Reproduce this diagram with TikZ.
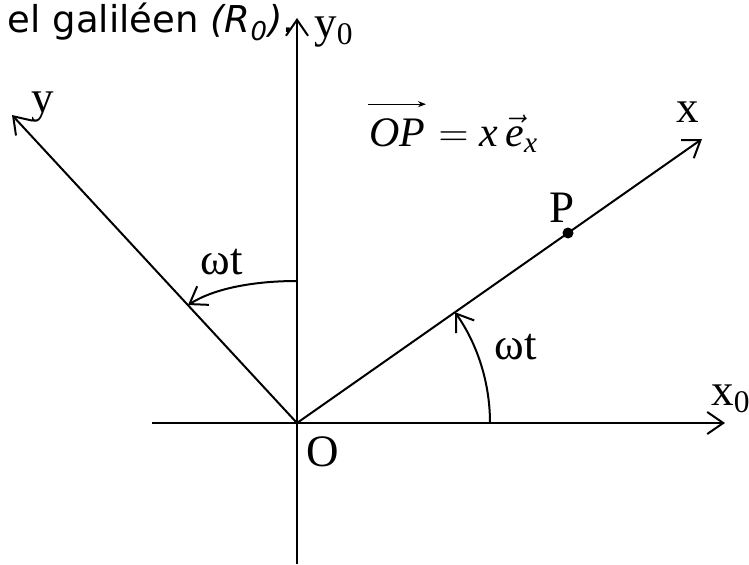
\documentclass[tikz,border=0pt]{standalone}
\usepackage{amsmath}
\usepackage{fontspec}
\setmainfont{Liberation Serif}
\newfontfamily\verd{DejaVu Sans}
\usetikzlibrary{arrows.meta}
\begin{document}
\begin{tikzpicture}[x=0.5pt,y=0.5pt, line width=1pt,
  >={Straight Barb[length=8pt,width=11pt]},
  lbl/.style={inner sep=0pt, font=\fontsize{22.5}{27}\selectfont},
  frm/.style={inner sep=0pt, anchor=base west, font=\fontsize{21}{25}\selectfont},
  dot/.style={circle, fill=black, inner sep=0pt, minimum size=5.5pt}]
\useasboundingbox (0,0) rectangle (749,564);
% coordinates
\coordinate (O) at (297,141);
\coordinate (x0s) at (152,141);
\coordinate (x0e) at (725,141);
\coordinate (y0s) at (297,0);
\coordinate (y0e) at (297,546);
\coordinate (xe) at (702,425);
\coordinate (ye) at (12,449);
\coordinate (a1) at (490,141);
\coordinate (b1) at (297,283);
\coordinate (b2) at (188,259);
% axes
\draw[->] (x0s) -- (x0e);
\draw[->] (y0s) -- (y0e);
\draw[->] (O) -- (xe);
\draw[->] (O) -- (ye);
% angles
\draw[->] (a1) arc[start angle=0, end angle=35.04, radius=193];
\draw[->] (b1) .. controls (255,283) and (215,276) .. (b2);
% point P
\node[dot] (Pd) at (568,331) {};
% labels
\node[lbl] (ly0) at (334,532) {y\textsubscript{0}};
\node[lbl] (lx0) at (731,165) {x\textsubscript{0}};
\node[lbl] (lx) at (688,452) {x};
\node[lbl] (ly) at (43,457) {y};
\node[lbl] (lO) at (323,112) {O};
\node[lbl] (lP) at (562,356) {P};
\node[lbl] (w1) at (222,302) {ωt};
\node[lbl] (w2) at (516,217) {ωt};
% formula
\node[frm] (fOP) at (368,418) {\textit{OP}};
\node[frm] (frest) at (fOP.base east) {$\;{=}\;\textit{x}\,\vec{\textit{e}}_{\textit{x}}$};
\draw[line width=0.6pt, -{Stealth[length=4pt,width=3pt]}]
  ([yshift=6.5pt]fOP.north west) -- ([yshift=6.5pt]fOP.north east);
\node[anchor=base west, inner sep=0pt, font=\verd\fontsize{18.5}{22}\selectfont] (top) at (7,531)
  {el galiléen \textit{(R\textsubscript{0})}.};
\end{tikzpicture}
\end{document}
